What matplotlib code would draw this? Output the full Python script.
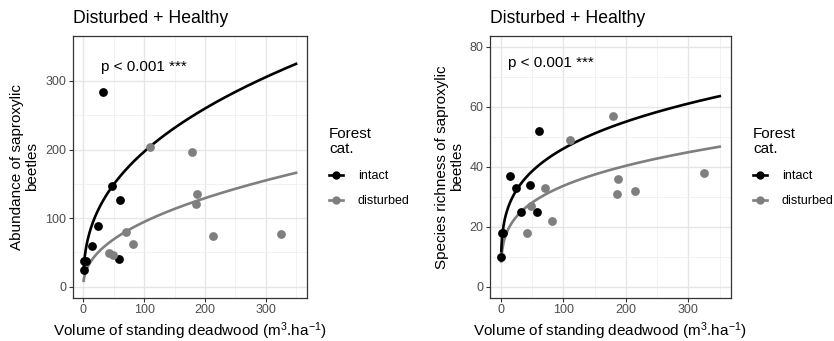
import numpy as np
import matplotlib
matplotlib.use("Agg")
import matplotlib.pyplot as plt
from matplotlib.lines import Line2D

plt.rcParams["font.family"] = ["Liberation Sans", "DejaVu Sans"]
plt.rcParams["mathtext.fontset"] = "custom"
plt.rcParams["mathtext.rm"] = "Liberation Sans"
plt.rcParams["mathtext.it"] = "Liberation Sans:italic"

# deadwood volume (m3/ha)
intact_x = [0.5, 1.5, 4, 14.5, 23.5, 32, 46.5, 58, 61]
disturbed_x = [42, 48, 70.5, 81, 110, 178.5, 185, 187.5, 214, 325.5]

# abundance of saproxylic beetles
intact_abund = [25, 38, 38, 60, 88, 284, 147, 41, 126]
disturbed_abund = [49, 46, 80, 62, 204, 197, 121, 135, 74, 77]

# species richness of saproxylic beetles
intact_rich = [10, 18, 18, 37, 33, 25, 34, 25, 52]
disturbed_rich = [18, 27, 33, 22, 49, 57, 31, 36, 32, 38]

# fitted power models y = b * x^c
abund_fit = {"intact": (31.2, 0.40), "disturbed": (11.9, 0.45)}
rich_fit = {"intact": (14.1, 0.257), "disturbed": (10.06, 0.262)}

BLACK = "#000000"
GREY = "#7F7F7F"
W, H = 834, 341

fig = plt.figure(figsize=(W / 100, H / 100), dpi=100)


def panel(left, right, ys, fits, ylim, yticks, yminor, ylabel, ptext):
    ax = fig.add_axes([left / W, 1 - 297.7 / H, (right - left) / W, (297.7 - 35.7) / H])
    xs = np.linspace(0.5, 350, 400)
    for key, col in (("disturbed", GREY), ("intact", BLACK)):
        b, c = fits[key]
        ax.plot(xs, b * xs ** c, color=col, lw=1.9, zorder=3)
    ax.scatter(intact_x, ys[0], s=40, color=BLACK, zorder=4, linewidths=0)
    ax.scatter(disturbed_x, ys[1], s=40, color=GREY, zorder=4, linewidths=0)

    ax.set_xlim(-17.5, 367.5)
    ax.set_ylim(*ylim)
    ax.set_xticks([0, 100, 200, 300])
    ax.set_xticks([50, 150, 250, 350], minor=True)
    ax.set_yticks(yticks)
    ax.set_yticks(yminor, minor=True)
    ax.grid(which="major", color="#E6E6E6", lw=1.0, zorder=0)
    ax.grid(which="minor", color="#F0F0F0", lw=0.6, zorder=0)
    ax.set_axisbelow(True)
    for s in ax.spines.values():
        s.set_color("#333333")
        s.set_linewidth(0.9)
    ax.tick_params(which="major", length=2.8, width=0.8, color="#333333",
                   labelsize=9, labelcolor="#4D4D4D", pad=2)
    ax.tick_params(which="minor", length=0)

    ax.set_title("Disturbed + Healthy", loc="left", fontsize=12.7, pad=9)
    ax.set_xlabel("Volume of standing deadwood (m$^{3}$.ha$^{-1}$)", fontsize=11, labelpad=3)
    ax.set_ylabel(ylabel, fontsize=11, labelpad=4, linespacing=1.1)
    ax.text(ptext[0], ptext[1], "p < 0.001 ***", fontsize=11, ha="center", va="center")

    # legend
    fig.text((right + 22.5) / W, 1 - 153.3 / H, "Forest\ncat.", fontsize=11,
             ha="left", va="baseline", linespacing=1.1)
    handles = [Line2D([], [], color=BLACK, lw=1.9, marker="o", ms=5),
               Line2D([], [], color=GREY, lw=1.9, marker="o", ms=5)]
    ax.legend(handles, ["intact", "disturbed"], loc="upper left",
              bbox_to_anchor=((right + 22.5) / W, 1 - 170 / H),
              bbox_transform=fig.transFigure, frameon=False, fontsize=9,
              handlelength=1.1, handletextpad=1.2, labelspacing=1.05,
              borderpad=0, borderaxespad=0)
    return ax


panel(72.7, 306.7, (intact_abund, disturbed_abund), abund_fit, (-16, 366),
      [0, 100, 200, 300], [50, 150, 250], "Abundance of saproxylic\nbeetles", (100, 320))
panel(490, 730.7, (intact_rich, disturbed_rich), rich_fit, (-3.7, 83.7),
      [0, 20, 40, 60, 80], [10, 30, 50, 70], "Species richness of saproxylic\nbeetles", (80, 74.5))

fig.savefig("out.png", dpi=100)
